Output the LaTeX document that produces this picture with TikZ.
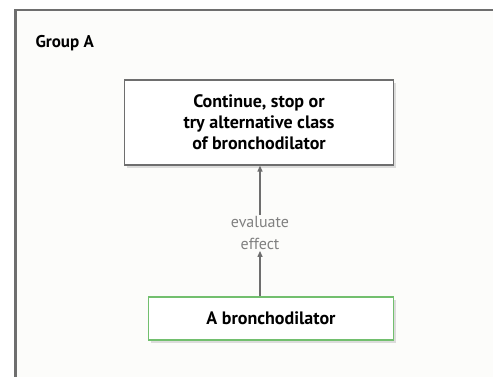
\documentclass[tikz,border=0pt]{standalone}
\usepackage{fontspec}
\setmainfont{PT Sans}
\usetikzlibrary{shadows,arrows.meta}
\definecolor{framegray}{HTML}{6E6E6E}
\definecolor{panelbg}{HTML}{FCFCFA}
\definecolor{boxgreen}{HTML}{72BF6E}
\definecolor{notegray}{HTML}{808080}
\tikzset{
  panel/.style={draw=framegray, line width=2.4pt, fill=panelbg},
  stepbox/.style={draw=framegray, line width=1.2pt, fill=white, align=center,
    font=\bfseries\fontsize{18}{21}\selectfont, inner sep=0pt,
    drop shadow={opacity=0.25, shadow xshift=2pt, shadow yshift=-2.5pt}},
  greenbox/.style={stepbox, draw=boxgreen, line width=1.6pt},
  link/.style={draw=framegray, line width=1.2pt, -{Triangle[length=6pt,width=5pt]}},
  note/.style={text=notegray, font=\fontsize{16}{22}\selectfont, align=center, inner sep=1pt}
}
\begin{document}
\begin{tikzpicture}[x=1pt,y=-1pt]
  \useasboundingbox (0,0) rectangle (493,376);
  \fill[white] (0,0) rectangle (493,376);
  \path[panel] (15.5,10) rectangle (510,390);
  \node[anchor=base west, font=\bfseries\fontsize{17}{20}\selectfont] (title) at (32,47) {Group A};
  \node[stepbox, minimum width=269pt, minimum height=85pt] (decide) at (259,122.5)
    {Continue, stop or\\try alternative class\\of bronchodilator};
  \node[greenbox, minimum width=245pt, minimum height=43pt] (drug) at (271,318.5) {A bronchodilator};
  \node[note] (eval) at (260,233) {evaluate\\effect};
  \draw[link] (drug.north -| eval) -- (eval.south);
  \draw[link] (eval.north) -- (decide.south -| eval);
\end{tikzpicture}
\end{document}
